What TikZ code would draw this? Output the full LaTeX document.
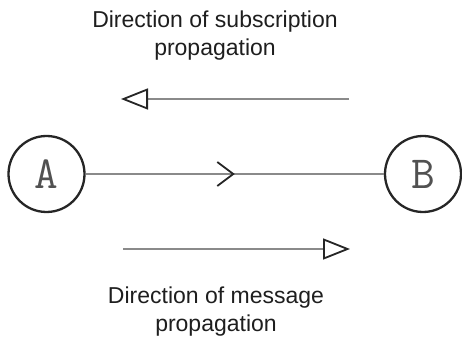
\documentclass[tikz,border=0pt]{standalone}
\usepackage{fontspec}
\setmainfont{Liberation Sans}
\usetikzlibrary{arrows.meta,decorations.markings}
\definecolor{linegray}{HTML}{8A8A8A}
\definecolor{darkline}{HTML}{262626}
\definecolor{txt}{HTML}{1E1E1E}
\tikzset{
  peer/.style={circle, draw=darkline, line width=2.3pt, minimum size=76pt, inner sep=0pt, font=\ttfamily\fontsize{46}{46}\selectfont, text=darkline!80},
  conn/.style={draw=linegray, line width=2.6pt},
  dirarrow/.style={draw=linegray, line width=2.6pt, -{Triangle[open, length=27pt, width=21pt, line width=1.8pt, color=darkline]}},
  label/.style={font=\fontsize{23}{27}\selectfont, text=txt, anchor=base, inner sep=0pt},
}
\begin{document}
\begin{tikzpicture}[x=1pt,y=-1pt]
\useasboundingbox (0,0) rectangle (462,344);
\node[peer] (A) at (46.5,174) {A};
\node[peer] (B) at (423,174) {B};
\draw[conn, postaction={decorate}, decoration={markings, mark=at position 0.5 with {\arrow[darkline, line width=1.8pt]{Straight Barb[length=16pt, width=24pt]}}}] (A) -- (B);
\coordinate (ts) at (349,99);
\coordinate (te) at (121,99);
\coordinate (bs) at (123,249);
\coordinate (be) at (350,249);
\draw[dirarrow] (ts) -- (te);
\draw[dirarrow] (bs) -- (be);
\node[label] (t1) at (215,28) {Direction of subscription};
\node[label] (t2) at (215,56) {propagation};
\node[label] (b1) at (216,303) {Direction of message};
\node[label] (b2) at (216,331) {propagation};
\end{tikzpicture}
\end{document}
